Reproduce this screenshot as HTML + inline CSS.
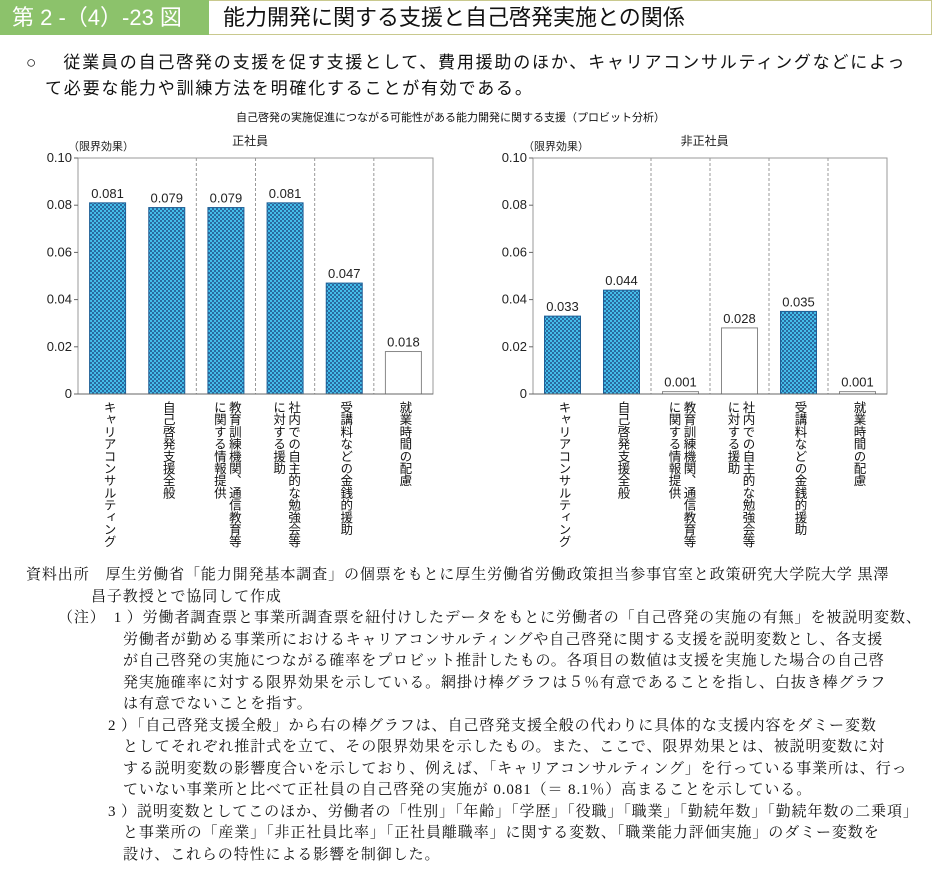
<!DOCTYPE html>
<html lang="ja"><head><meta charset="utf-8">
<style>
body{margin:0;width:933px;height:870px;background:#fff;position:relative;overflow:hidden;font-family:"Liberation Sans","Noto Sans CJK JP",sans-serif;color:#111}
.abs{position:absolute;white-space:nowrap}
.serif{font-family:"Liberation Serif","Noto Serif CJK SC",serif;font-size:15px;letter-spacing:0.9px}
.vl{position:absolute;writing-mode:vertical-rl;font-size:12.5px;line-height:15px;top:401px;letter-spacing:-0.3px}
</style></head><body>
<div class="abs" style="left:0;top:0;width:931px;height:33px;border:1px solid #c9c98e;border-left:none"></div>
<div class="abs" style="left:0;top:0;width:209px;height:35px;background:#8cc26b;color:#fff;font-size:22px;line-height:35px;padding-left:12px;box-sizing:border-box">第 2 -（4）-23 図</div>
<div class="abs" style="left:223px;top:3px;font-size:22px;line-height:30px">能力開発に関する支援と自己啓発実施との関係</div>
<div class="abs" style="left:26px;top:50px;font-size:17px;line-height:26px;letter-spacing:1.8px">○　 従業員の自己啓発の支援を促す支援として、費用援助のほか、キャリアコンサルティングなどによっ<br><span style="padding-left:19px">て必要な能力や訓練方法を明確化することが有効である。</span></div>
<div class="abs" style="left:236px;top:109px;font-size:11px">自己啓発の実施促進につながる可能性がある能力開発に関する支援（プロビット分析）</div>

<svg id="chart" class="abs" style="left:0;top:0" width="933" height="560">
<defs><pattern id="dots" width="4" height="4" patternUnits="userSpaceOnUse"><rect width="4" height="4" fill="#45bde9"/><rect x="0" y="0" width="2" height="2" fill="#2a6aa0"/><rect x="2" y="2" width="2" height="2" fill="#2a6aa0"/></pattern></defs>
</svg>

<div id="labels"></div>

<div class="abs serif" style="left:26px;top:565px;line-height:21.5px">資料出所　厚生労働省「能力開発基本調査」の個票をもとに厚生労働省労働政策担当参事官室と政策研究大学院大学 黒澤<br><span style="padding-left:65px">昌子教授とで協同して作成</span></div>
<div class="abs serif" style="left:58px;top:608px;line-height:21.5px">（注）<span style="padding-left:8px">1 ）労働者調査票と事業所調査票を紐付けしたデータをもとに労働者の「自己啓発の実施の有無」を被説明変数、</span><br>
<span style="padding-left:65px">労働者が勤める事業所におけるキャリアコンサルティングや自己啓発に関する支援を説明変数とし、各支援</span><br>
<span style="padding-left:65px">が自己啓発の実施につながる確率をプロビット推計したもの。各項目の数値は支援を実施した場合の自己啓</span><br>
<span style="padding-left:65px">発実施確率に対する限界効果を示している。網掛け棒グラフは５％有意であることを指し、白抜き棒グラフ</span><br>
<span style="padding-left:65px">は有意でないことを指す。</span><br>
<span style="padding-left:50px">2 ）「自己啓発支援全般」から右の棒グラフは、自己啓発支援全般の代わりに具体的な支援内容をダミー変数</span><br>
<span style="padding-left:65px">としてそれぞれ推計式を立て、その限界効果を示したもの。また、ここで、限界効果とは、被説明変数に対</span><br>
<span style="padding-left:65px">する説明変数の影響度合いを示しており、例えば、「キャリアコンサルティング」を行っている事業所は、行っ</span><br>
<span style="padding-left:65px">ていない事業所と比べて正社員の自己啓発の実施が 0.081（＝ 8.1％）高まることを示している。</span><br>
<span style="padding-left:50px">3 ）説明変数としてこのほか、労働者の「性別」「年齢」「学歴」「役職」「職業」「勤続年数」「勤続年数の二乗項」</span><br>
<span style="padding-left:65px">と事業所の「産業」「非正社員比率」「正社員離職率」に関する変数、「職業能力評価実施」のダミー変数を</span><br>
<span style="padding-left:65px">設け、これらの特性による影響を制御した。</span></div>

<script>
const categories=[["キャリアコンサルティング"],["自己啓発支援全般"],["教育訓練機関、通信教育等","に関する情報提供"],["社内での自主的な勉強会等","に対する援助"],["受講料などの金銭的援助"],["就業時間の配慮"]];
const regularValues=[0.081,0.079,0.079,0.081,0.047,0.018];
const regularSignificant=[true,true,true,true,true,false];
const nonRegularValues=[0.033,0.044,0.001,0.028,0.035,0.001];
const nonRegularSignificant=[true,true,false,false,true,false];
const yTicks=[0,0.02,0.04,0.06,0.08,0.10];
const yTickLabels=["0","0.02","0.04","0.06","0.08","0.10"];
const panelTitles=["正社員","非正社員"];

const NS="http://www.w3.org/2000/svg";
const svg=document.getElementById('chart');
const labels=document.getElementById('labels');
function mk(tag,attrs,parent){const e=document.createElementNS(NS,tag);for(const k in attrs)e.setAttribute(k,attrs[k]);(parent||svg).appendChild(e);return e;}
const plotTop=158,plotBottom=394,yMax=0.10;
function yScale(v){return plotBottom-(v/yMax)*(plotBottom-plotTop);}
function drawPanel(x0,x1,vals,sig,title,key){
  const g=mk('g',{});
  
  
  const w=(x1-x0)/categories.length;
  const frame=mk('rect',{x:x0,y:plotTop,width:x1-x0,height:plotBottom-plotTop,fill:'none',stroke:'#999','stroke-width':1},g);
  
  
  for(let i=2;i<categories.length;i++){
    const sx=x0+w*i;
    const s=mk('line',{x1:sx,x2:sx,y1:plotTop,y2:plotBottom,stroke:'#999','stroke-dasharray':'3,2'},g);
    
    
  }
  yTicks.forEach((t,i)=>{
    const y=yScale(t);
    mk('line',{x1:x0-4,x2:x0,y1:y,y2:y,stroke:'#666'},g);
    const tx=mk('text',{x:x0-6,y:y+4,'text-anchor':'end','font-size':13,fill:'#222'},g);
    tx.textContent=yTickLabels[i];
    
    
  });
  const yt=mk('text',{x:x0-10,y:150,'font-size':11,fill:'#222'},g);yt.textContent='（限界効果）';
  
  
  const pt=mk('text',{x:x0+(x1-x0)*0.485,y:145,'text-anchor':'middle','font-size':12,fill:'#222'},g);pt.textContent=title;
  
  
  vals.forEach((v,i)=>{
    const cx=x0+w*(i+0.5);const bw=36;const y=yScale(v);
    const b=mk('rect',{x:cx-bw/2,y:y,width:bw,height:plotBottom-y,fill:sig[i]?'url(#dots)':'#fff',stroke:sig[i]?'#1d5f96':'#888','stroke-width':1},g);
    
    
    const lt=mk('text',{x:cx,y:y-5,'text-anchor':'middle','font-size':13,fill:'#222'},g);
    lt.textContent=v.toFixed(3);
    
    
    categories[i].forEach((line,j)=>{
      const d=document.createElement('div');
      d.className='vl';
      const off=categories[i].length===1?0:(j===0?7:-8);
      d.style.left=(cx+off-7)+'px';
      d.textContent=line;
      
      
      labels.appendChild(d);
    });
  });
  mk('line',{x1:x0,x2:x1,y1:plotBottom,y2:plotBottom,stroke:'#666'},g);
}
drawPanel(78,433,regularValues,regularSignificant,panelTitles[0],'regular');
drawPanel(533,887,nonRegularValues,nonRegularSignificant,panelTitles[1],'nonregular');
</script>
</body></html>
